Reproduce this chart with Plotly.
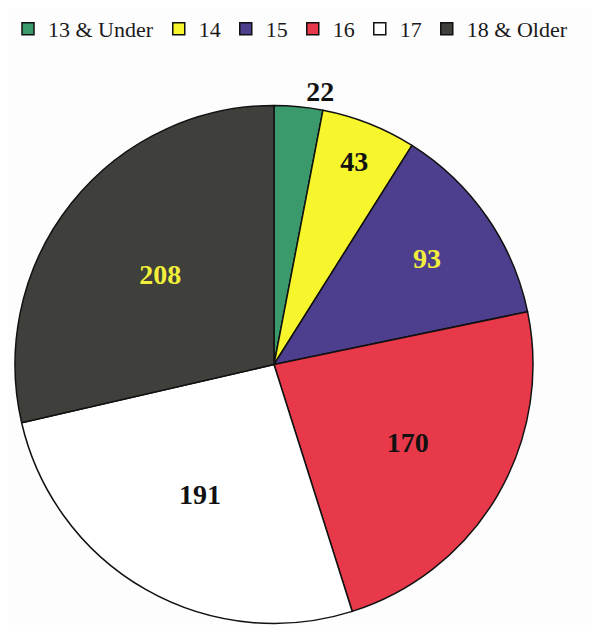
import plotly.graph_objects as go

labels = ["13 & Under", "14", "15", "16", "17", "18 & Older"]
values = [22, 43, 93, 170, 191, 208]
colors = ["#3b9a6c", "#f7f52c", "#4e3f8e", "#e8394b", "#ffffff", "#3f3f3b"]
text_colors = ["#111111", "#111111", "#f2ef3a", "#111111", "#111111", "#f2ef3a"]
positions = ["outside", "inside", "inside", "inside", "inside", "inside"]

SERIF = "Liberation Serif"

fig = go.Figure(go.Pie(
    labels=labels, values=values, sort=False, direction="clockwise", rotation=0,
    marker=dict(colors=colors, line=dict(color="#111111", width=1.5)),
    texttemplate="<b>%{value}</b>", textposition=positions,
    insidetextorientation="horizontal",
    textfont=dict(family=SERIF, size=28, color="#111111"),
    insidetextfont=dict(family=SERIF, size=28, color=text_colors),
    outsidetextfont=dict(family=SERIF, size=28, color="#111111"),
    domain=dict(x=[7/600, 525/600], y=[9/625, 528/625]),
    hoverinfo="label+value",
))
fig.update_layout(
    width=600, height=625,
    margin=dict(l=0, r=0, t=0, b=0),
    paper_bgcolor="#fdfdfd",
    showlegend=True,
    legend=dict(font=dict(family=SERIF, size=22, color="#1a1a1a"),
                orientation="h", x=0.0, y=1.0, xanchor="left", yanchor="top",
                itemwidth=30),
)
fig.write_html("out.html")
